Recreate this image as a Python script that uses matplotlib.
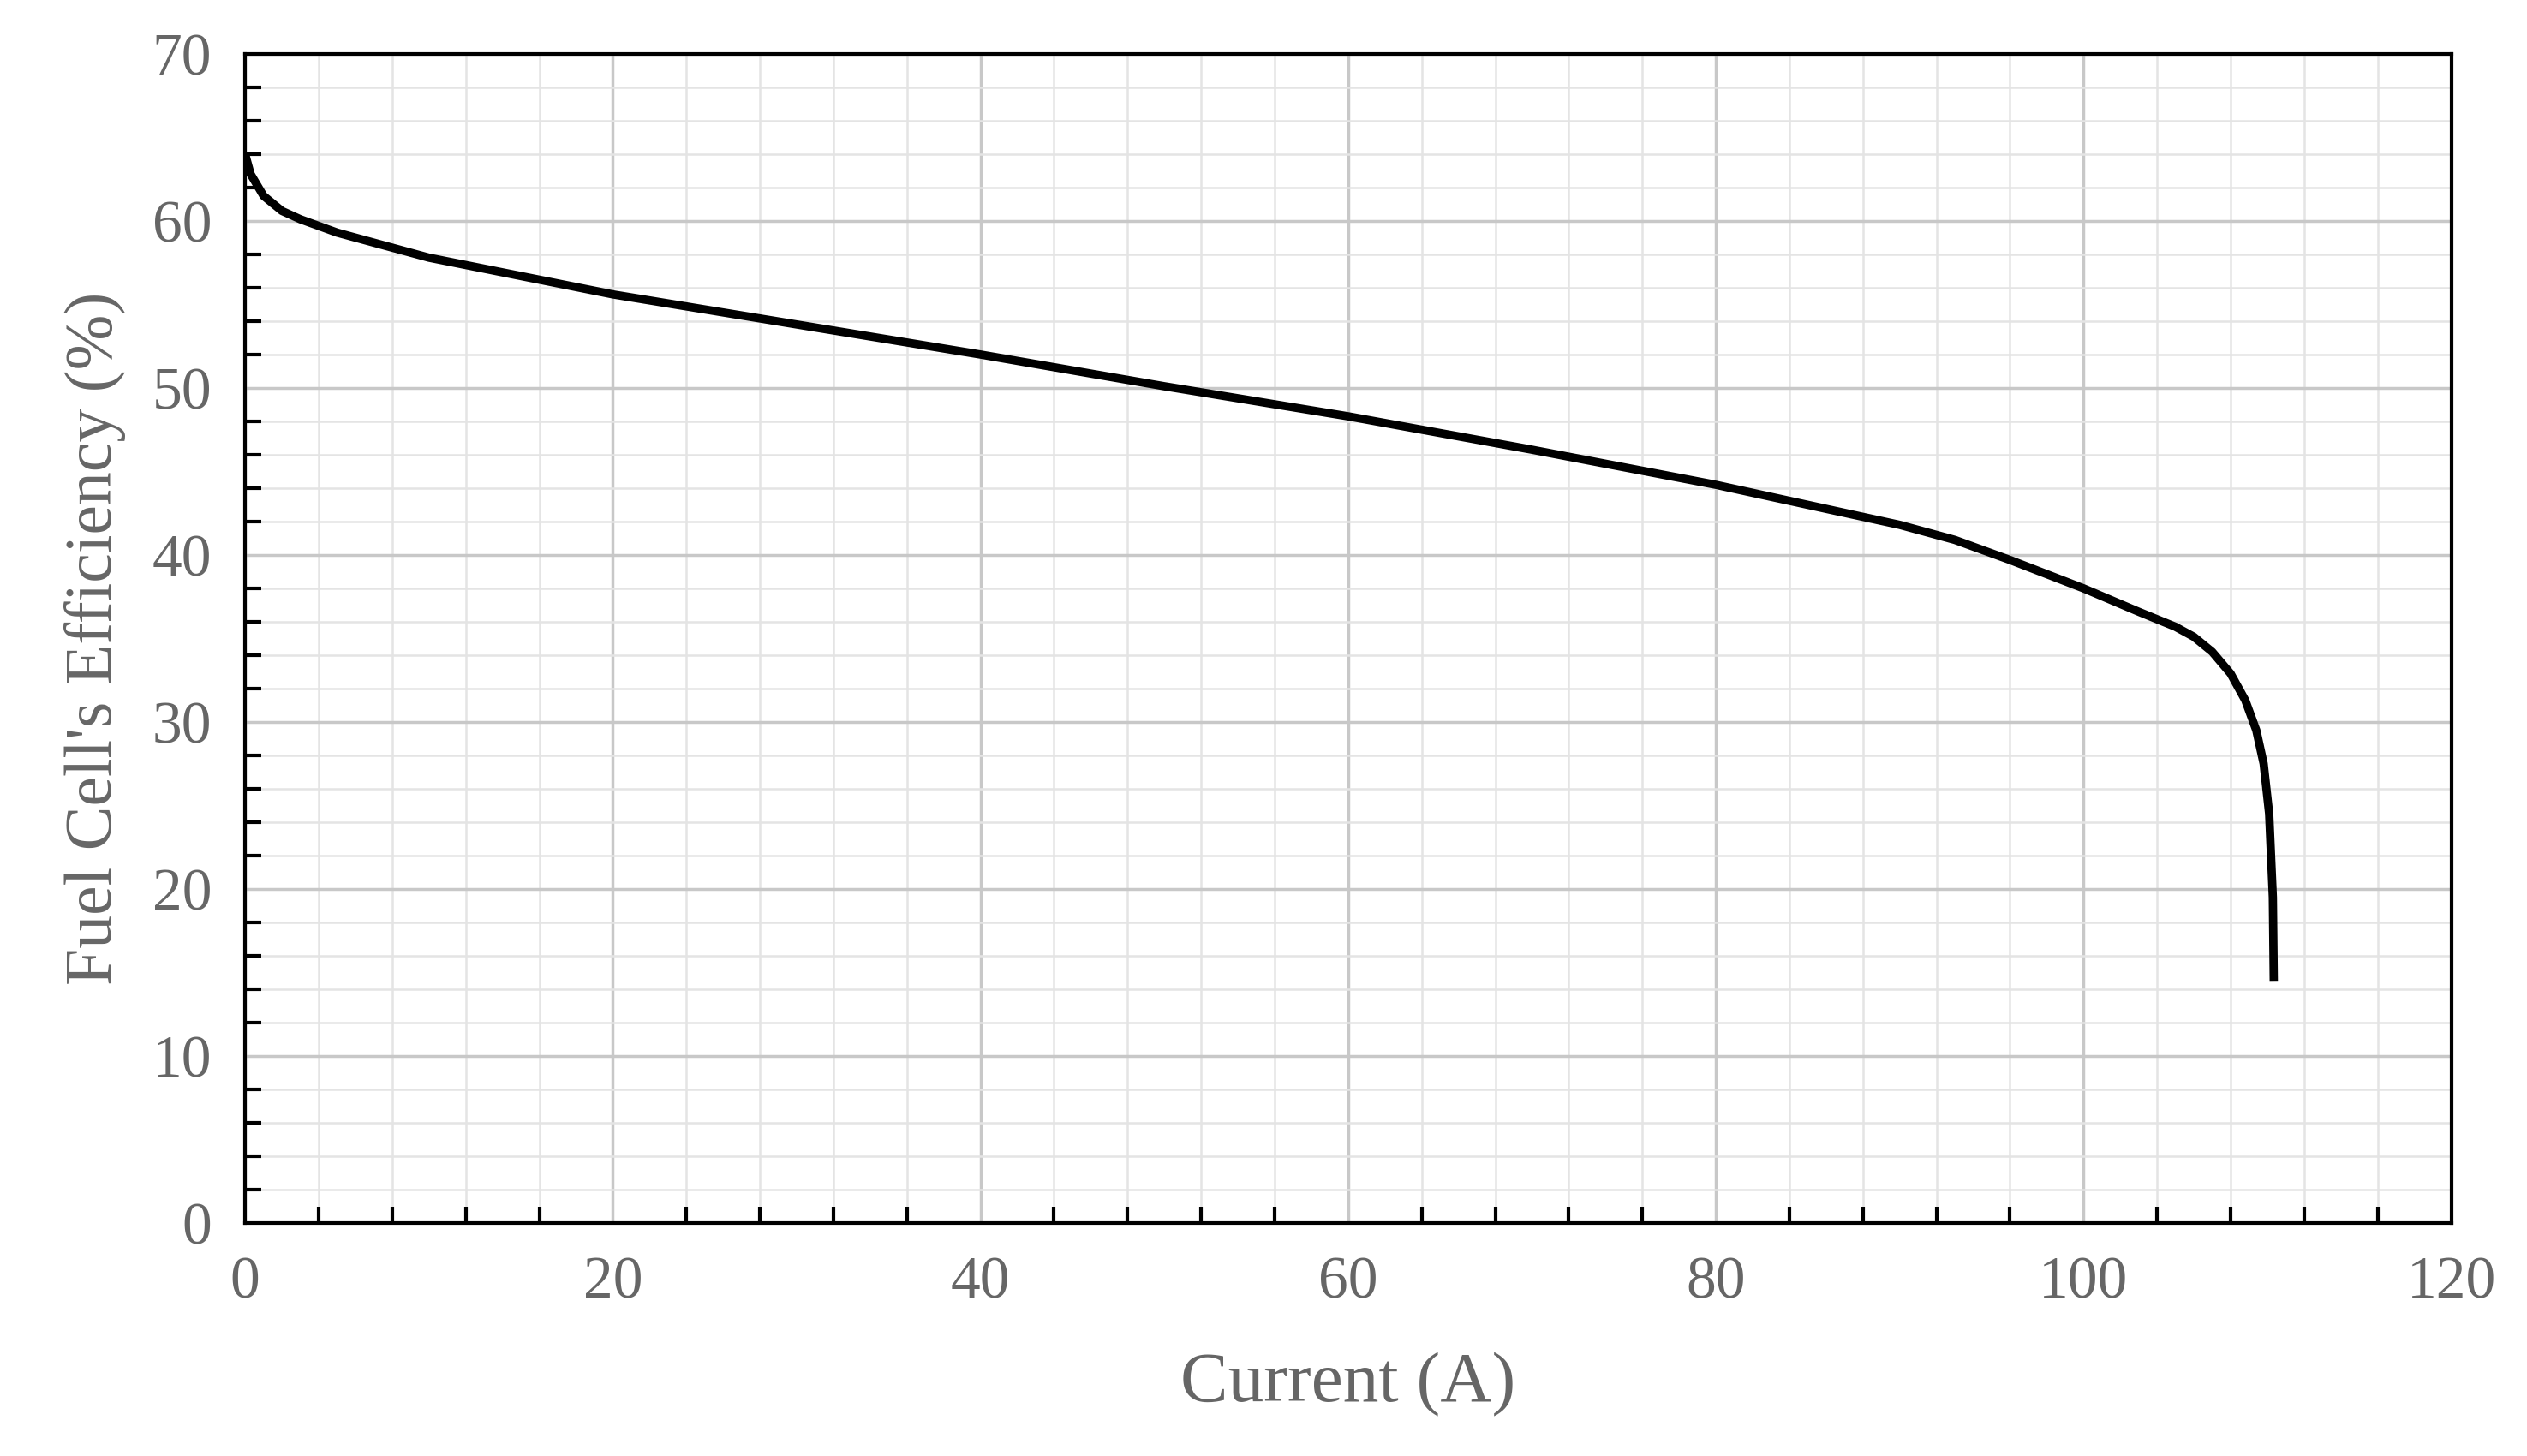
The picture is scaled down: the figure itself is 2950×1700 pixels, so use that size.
import matplotlib
matplotlib.use("Agg")
import matplotlib.pyplot as plt
from matplotlib.ticker import MultipleLocator

current = [0, 0.3, 1, 2, 3, 5, 10, 20, 30, 40, 50, 60, 70, 80, 90, 93, 96, 100, 103, 105, 106, 107, 108, 108.8, 109.4, 109.8, 110.1, 110.3, 110.35]
efficiency = [64, 62.8, 61.5, 60.6, 60.1, 59.3, 57.8, 55.6, 53.8, 52.0, 50.1, 48.3, 46.3, 44.2, 41.8, 40.9, 39.7, 38.0, 36.6, 35.7, 35.1, 34.2, 32.9, 31.3, 29.5, 27.5, 24.5, 19.5, 14.5]

plt.rcParams['font.family'] = ['Liberation Serif', 'DejaVu Serif']
gray = '#666666'
fig = plt.figure(figsize=(29.5, 17), dpi=100)
ax = fig.add_axes([0.097, 0.16, 0.873, 0.803])
ax.plot(current, efficiency, color='black', lw=7, solid_capstyle='butt')
ax.set_xlim(0, 120)
ax.set_ylim(0, 70)
ax.xaxis.set_major_locator(MultipleLocator(20))
ax.xaxis.set_minor_locator(MultipleLocator(4))
ax.yaxis.set_major_locator(MultipleLocator(10))
ax.yaxis.set_minor_locator(MultipleLocator(2))
ax.grid(which='major', color='#c8c8c8', lw=2.5)
ax.grid(which='minor', color='#e4e4e4', lw=1.8)
ax.set_axisbelow(True)
ax.tick_params(which='major', direction='in', length=0, labelsize=50, labelcolor=gray, pad=28)
ax.tick_params(which='minor', direction='in', length=14, width=3, color='black')
for s in ax.spines.values():
    s.set_linewidth(3)
ax.set_xlabel('Current (A)', fontsize=60, color=gray, labelpad=35)
ax.set_ylabel("Fuel Cell's Efficiency (%)", fontsize=56, color=gray, labelpad=22)
fig.savefig('out.png', dpi=100)
